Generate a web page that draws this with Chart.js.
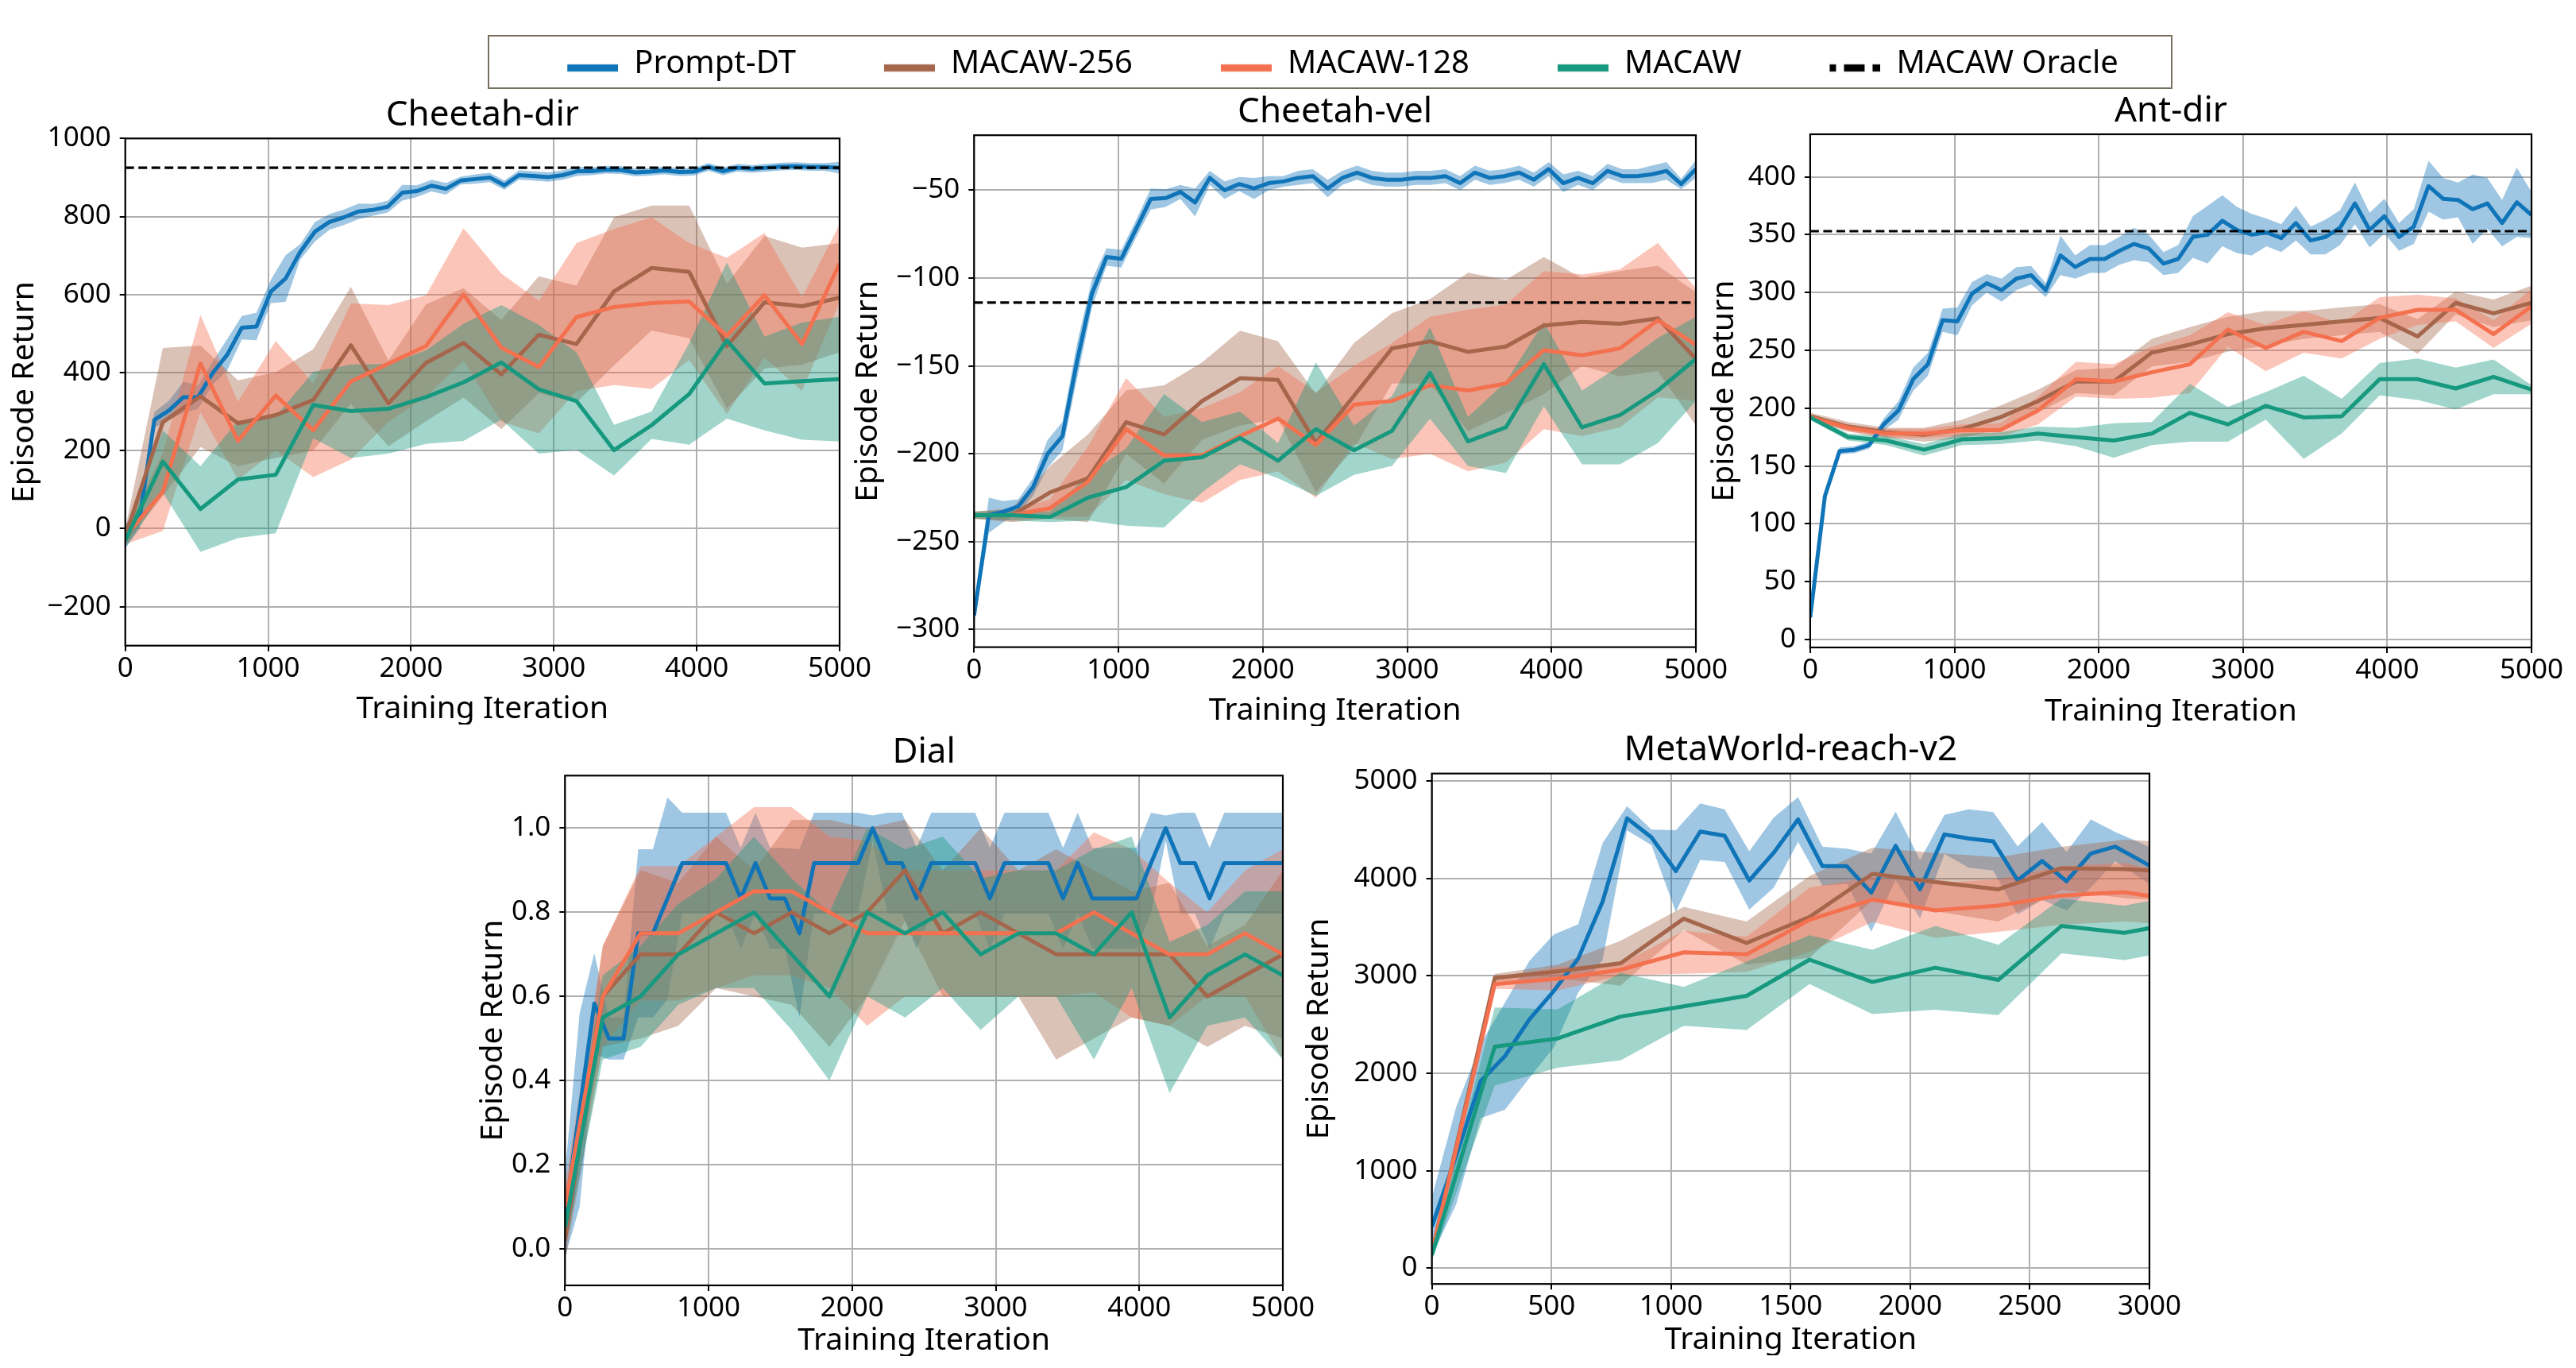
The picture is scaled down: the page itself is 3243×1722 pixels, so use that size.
<!DOCTYPE html>
<html>
<head>
<meta charset="utf-8">
<script src="https://cdn.jsdelivr.net/npm/chart.js@4.4.1/dist/chart.umd.min.js"></script>
<style>
html,body{margin:0;padding:0;background:#fff;}
body{width:3243px;height:1722px;position:relative;overflow:hidden;}
canvas{position:absolute;display:block;}
#legendBorder{position:absolute;left:614px;top:44px;width:2121px;height:68px;border:2.2px solid #77705f;box-sizing:border-box;}
</style>
</head>
<body>
<div id="legendBorder"></div>
<script>
// ---------------- DATA ----------------
const SERIES_LABELS = ['Prompt-DT', 'MACAW-256', 'MACAW-128', 'MACAW', 'MACAW Oracle'];

// evaluation iterations
const ITER_PROMPT_DT = [0,102,204,306,408,510,612,714,816,918,1020,1122,1224,1327,1429,1531,1633,1735,1837,1939,2041,2143,2245,2347,2449,2551,2653,2755,2857,2959,3061,3163,3265,3367,3469,3571,3673,3776,3878,3980,4082,4184,4286,4388,4490,4592,4694,4796,4898,5000];
const ITER_MACAW = [0,263,526,789,1053,1316,1579,1842,2105,2368,2632,2895,3158,3421,3684,3947,4211,4474,4737,5000];

// Cheetah-dir
const CHEETAH_DIR_PROMPT_DT = [-20,30,279,303,337,337,399,446,515,518,608,641,709,761,786,798,813,817,825,861,865,879,871,892,896,900,880,906,904,901,906,916,916,920,919,913,915,918,914,915,927,916,925,922,925,928,929,927,927,925];
const CHEETAH_DIR_PROMPT_DT_STD = [30,30,20,25,40,30,30,40,30,35,30,60,20,25,20,20,20,15,15,20,15,15,15,10,12,12,12,12,12,12,12,12,10,10,10,10,10,10,10,10,10,10,10,10,10,10,10,10,10,15];
const CHEETAH_DIR_MACAW256 = [-20,273,339,270,291,330,470,321,425,476,395,497,473,608,668,658,468,580,570,592];
const CHEETAH_DIR_MACAW256_STD = [20,190,130,110,110,130,150,110,150,140,140,150,150,190,160,170,160,170,150,140];
const CHEETAH_DIR_MACAW128 = [-20,94,423,225,341,252,377,423,468,600,464,414,542,568,578,582,494,598,473,680];
const CHEETAH_DIR_MACAW128_STD = [20,100,125,100,140,120,200,150,130,170,190,170,190,200,220,150,200,160,120,100];
const CHEETAH_DIR_MACAW = [-30,172,50,126,138,317,301,307,337,375,426,357,327,201,265,345,482,372,378,383];
const CHEETAH_DIR_MACAW_STD = [20,80,110,150,150,85,120,115,120,150,147,165,125,65,35,130,200,120,150,160];
const CHEETAH_DIR_ORACLE = 925;

// Cheetah-vel
const CHEETAH_VEL_PROMPT_DT = [-292,-235,-233,-230,-219,-200,-190,-147,-109,-88,-89,-72,-55,-54.5,-51,-57,-43,-50,-46.5,-49,-46,-45,-43,-42,-49,-43,-40,-43,-44,-44,-43,-43,-42,-46,-40,-43,-42,-40,-44,-38,-46,-43,-46,-39,-42,-42,-41,-39,-46.5,-38];
const CHEETAH_VEL_PROMPT_DT_STD = [5,10,6,4,5,8,8,10,8,5,5,5,6,5,4,8,4,5,4,6,4,3,4,4,5,4,4,4,4,4,4,4,4,4,4,4,4,4,4,4,5,4,4,4,4,4,5,5,3,5];
const CHEETAH_VEL_MACAW256 = [-235,-235,-222,-214,-182,-189,-170,-157,-158,-194,-167,-140,-136,-142,-139,-127,-125,-126,-123,-146];
const CHEETAH_VEL_MACAW256_STD = [2,4,15,25,18,28,22,27,22,28,30,20,24,45,38,39,25,30,30,38];
const CHEETAH_VEL_MACAW128 = [-235,-235,-231,-216,-186,-201,-201,-190,-180,-195,-172,-170,-161,-164,-160,-141,-144,-140,-124,-138];
const CHEETAH_VEL_MACAW128_STD = [2,3,5,20,29,22,27,25,30,30,22,33,39,46,45,45,46,45,44,32];
const CHEETAH_VEL_MACAW = [-235,-235,-236,-225,-219,-204,-202,-191,-204,-186,-198,-187,-154,-193,-185,-149,-185,-178,-164,-146];
const CHEETAH_VEL_MACAW_STD = [2,3,3,13,22,38,20,15,10,38,14,20,26,14,26,24,21,28,30,24];
const CHEETAH_VEL_ORACLE = -114;

// Ant-dir
const ANT_DIR_PROMPT_DT = [19,124,163,164,168,186,198,225,238,276,275,299,308,302,312,315,302,332,322,329,329,336,342,338,325,329,348,350,362,354,350,352,347,360,345,348,356,377,354,366,348,357,392,381,380,372,377,360,378,367];
const ANT_DIR_PROMPT_DT_STD = [3,5,3,3,3,5,8,10,10,10,12,10,8,10,10,8,6,17,10,12,12,12,14,12,10,12,18,25,22,20,18,12,12,15,12,15,15,18,15,15,12,15,22,18,15,30,22,20,30,20];
const ANT_DIR_MACAW256 = [193,184,179,177,182,192,206,223,223,248,255,264,269,272,275,278,262,291,282,291];
const ANT_DIR_MACAW256_STD = [3,4,4,6,8,10,10,10,12,12,15,15,15,12,12,12,15,10,12,15];
const ANT_DIR_MACAW128 = [192,183,178,178,181,181,198,225,223,231,238,268,252,266,258,278,285,285,264,288];
const ANT_DIR_MACAW128_STD = [2,3,4,4,5,6,12,15,15,22,25,15,20,18,15,18,13,10,12,15];
const ANT_DIR_MACAW = [192,175,172,164,173,174,178,175,172,178,196,186,202,192,193,225,225,217,227,216];
const ANT_DIR_MACAW_STD = [2,3,4,5,5,5,6,8,15,10,25,15,12,36,15,14,18,18,15,4];
const ANT_DIR_ORACLE = 353;

// Dial
const DIAL_PROMPT_DT = [0.08,0.33,0.583,0.5,0.5,0.75,0.75,0.833,0.917,0.917,0.917,0.917,0.833,0.917,0.833,0.833,0.75,0.917,0.917,0.917,0.917,1.0,0.917,0.917,0.833,0.917,0.917,0.917,0.917,0.833,0.917,0.917,0.917,0.917,0.833,0.917,0.833,0.833,0.833,0.833,0.917,1.0,0.917,0.917,0.833,0.917,0.917,0.917,0.917,0.917];
const DIAL_PROMPT_DT_STD = [0.1,0.23,0.12,0.05,0.05,0.2,0.2,0.24,0.12,0.12,0.12,0.12,0.12,0.12,0.12,0.12,0.2,0.12,0.12,0.12,0.12,0.03,0.12,0.12,0.12,0.12,0.12,0.12,0.12,0.12,0.12,0.12,0.12,0.12,0.12,0.12,0.12,0.12,0.12,0.12,0.12,0.03,0.12,0.12,0.12,0.12,0.12,0.12,0.12,0.12];
const DIAL_MACAW256 = [0.02,0.6,0.7,0.7,0.8,0.75,0.8,0.75,0.8,0.9,0.75,0.8,0.75,0.7,0.7,0.7,0.7,0.6,0.65,0.7];
const DIAL_MACAW256_STD = [0.05,0.12,0.2,0.17,0.18,0.15,0.22,0.27,0.2,0.12,0.15,0.2,0.15,0.25,0.2,0.15,0.17,0.12,0.12,0.2];
const DIAL_MACAW128 = [0.1,0.6,0.75,0.75,0.8,0.85,0.85,0.8,0.75,0.75,0.75,0.75,0.75,0.75,0.8,0.75,0.7,0.7,0.75,0.7];
const DIAL_MACAW128_STD = [0.05,0.12,0.16,0.16,0.18,0.2,0.2,0.18,0.22,0.15,0.15,0.15,0.15,0.15,0.19,0.2,0.17,0.1,0.15,0.25];
const DIAL_MACAW = [0.05,0.55,0.6,0.7,0.75,0.8,0.7,0.6,0.8,0.75,0.8,0.7,0.75,0.75,0.7,0.8,0.55,0.65,0.7,0.65];
const DIAL_MACAW_STD = [0.05,0.1,0.12,0.12,0.13,0.18,0.18,0.2,0.2,0.2,0.18,0.18,0.15,0.15,0.25,0.18,0.18,0.12,0.15,0.2];

// MetaWorld-reach-v2 (axis shown up to 3000)
const MW_PROMPT_DT = [425,1155,1918,2177,2552,2844,3178,3762,4616,4420,4074,4479,4437,3978,4262,4604,4124,4124,3853,4333,3887,4450,4408,4379,3978,4178,3970,4254,4325,4187,4045];
const MW_PROMPT_DT_STD = [300,500,380,550,600,580,350,600,125,80,420,290,270,300,360,230,200,180,400,350,300,200,300,300,350,400,300,350,150,180,200];
const MW_MACAW256 = [154,2978,3044,3128,3586,3336,3603,4045,3962,3887,4103,4095,4060];
const MW_MACAW256_STD = [60,40,70,230,120,220,420,270,300,330,220,300,300];
const MW_MACAW128 = [154,2915,2969,3061,3240,3219,3574,3782,3670,3720,3824,3857,3760];
const MW_MACAW128_STD = [60,50,120,60,220,180,330,230,280,270,300,300,250];
const MW_MACAW = [133,2273,2356,2581,2686,2794,3165,2936,3082,2957,3511,3440,3560];
const MW_MACAW_STD = [60,400,300,450,200,350,250,330,430,360,280,280,280];

// tick values
const X_TICKS_5000 = [0,1000,2000,3000,4000,5000];
const X_TICKS_3000 = [0,500,1000,1500,2000,2500,3000];
const Y_TICKS_CHEETAH_DIR = [-200,0,200,400,600,800,1000];
const Y_TICKS_CHEETAH_VEL = [-300,-250,-200,-150,-100,-50];
const Y_TICKS_ANT_DIR = [0,50,100,150,200,250,300,350,400];
const Y_TICKS_DIAL = [0,0.2,0.4,0.6,0.8,1.0];
const Y_TICKS_MW = [0,1000,2000,3000,4000,5000];

// ---------------- STYLE ----------------
const FONT = "'Noto Sans', sans-serif";
Chart.defaults.font.family = FONT;
Chart.defaults.color = '#000';
const COLORS = ['#0f74b8', '#a5664c', '#f47150', '#17997f'];
const LINE_W = 5;
function rgba(hex, a) {
  const n = parseInt(hex.slice(1), 16);
  return `rgba(${(n >> 16) & 255},${(n >> 8) & 255},${n & 255},${a})`;
}
function fmtInt(v) { return v < 0 ? '\u2212' + Math.abs(v) : String(v); }
function fmt1(v) { return Number(v).toFixed(1); }

const framePlugin = {
  id: 'frame',
  afterDatasetsDraw(chart) {
    const {ctx, chartArea: a} = chart;
    ctx.save();
    ctx.strokeStyle = '#000';
    ctx.lineWidth = 2.2;
    ctx.strokeRect(a.left, a.top, a.right - a.left, a.bottom - a.top);
    ctx.restore();
  }
};

function seriesDatasets(xs, mean, std, color, label, bandOrder, lineOrder) {
  const lower = mean.map((m, i) => ({x: xs[i], y: m - std[i]}));
  const upper = mean.map((m, i) => ({x: xs[i], y: m + std[i]}));
  const line = mean.map((m, i) => ({x: xs[i], y: m}));
  return [
    {label: label + ' low', data: lower, borderColor: 'rgba(0,0,0,0)', borderWidth: 0, pointRadius: 0, fill: false, order: bandOrder, tension: 0},
    {label: label + ' high', data: upper, borderColor: 'rgba(0,0,0,0)', borderWidth: 0, pointRadius: 0, fill: '-1', backgroundColor: rgba(color, 0.4), order: bandOrder, tension: 0},
    {label: label, data: line, borderColor: color, borderWidth: LINE_W, pointRadius: 0, fill: false, order: lineOrder, tension: 0, borderJoinStyle: 'round', borderCapStyle: 'butt'}
  ];
}

function makePanel(p) {
  const TITLE_H = 6 + 44 + 7;
  const canvasLeft = Math.round(p.yTitleX - 19.5);
  const canvasTop = Math.round(p.T - TITLE_H);
  const canvasBottom = p.xTitleY + 19.5;
  const W = p.L - canvasLeft;
  const cw = Math.round(W + (p.R - p.L) + 80);
  const ch = Math.round(canvasBottom - canvasTop);
  const H = ch - (p.B - canvasTop);
  const topPad = (p.T - canvasTop) - TITLE_H;

  const cv = document.createElement('canvas');
  cv.width = cw; cv.height = ch;
  cv.style.left = canvasLeft + 'px'; cv.style.top = canvasTop + 'px';
  cv.style.width = cw + 'px'; cv.style.height = ch + 'px';
  document.body.appendChild(cv);

  let datasets = [];
  const orders = [[100, 40], [90, 30], [80, 20], [70, 10]];
  p.series.forEach((s, k) => {
    datasets = datasets.concat(seriesDatasets(s.x, s.mean, s.std, COLORS[k], SERIES_LABELS[k], orders[k][0], orders[k][1]));
  });
  if (p.oracle !== undefined) {
    datasets.push({label: SERIES_LABELS[4], data: [{x: p.xMin, y: p.oracle}, {x: p.xMax, y: p.oracle}],
      borderColor: '#000', borderWidth: 3.2, borderDash: [11, 5.5], pointRadius: 0, fill: false, order: 5});
  }

  const gridOpts = {color: '#b0b0b0', lineWidth: 2, tickLength: 7, tickColor: '#000', tickWidth: 2, drawTicks: true};

  new Chart(cv, {
    type: 'line',
    data: {datasets},
    options: {
      responsive: false, animation: false, devicePixelRatio: 1, events: [],
      layout: {padding: {left: 0, top: topPad, right: 80, bottom: 0}},
      plugins: {
        legend: {display: false},
        tooltip: {enabled: false},
        title: {display: true, text: p.title, fullSize: false, color: '#000',
          font: {size: 44, weight: 'normal', lineHeight: 1}, padding: {top: 6, bottom: 7}}
      },
      scales: {
        x: {
          type: 'linear', min: p.xMin, max: p.xMax,
          afterBuildTicks: s => { s.ticks = p.xTicks.map(v => ({value: v})); },
          afterFit: s => { s.height = H; },
          ticks: {font: {size: 35, lineHeight: 1}, padding: 4.7, maxRotation: 0, autoSkip: false, color: '#000', callback: v => fmtInt(v)},
          grid: gridOpts,
          border: {display: false},
          title: {display: true, text: 'Training Iteration', color: '#000', font: {size: 39, lineHeight: 1}, padding: {top: 0, bottom: 0}}
        },
        y: {
          type: 'linear', min: p.yMin, max: p.yMax,
          afterBuildTicks: s => { s.ticks = p.yTicks.map(v => ({value: v})); },
          afterFit: s => { s.width = W; },
          ticks: {font: {size: 35, lineHeight: 1}, padding: 11, autoSkip: false, color: '#000', callback: v => p.yFmt(v)},
          grid: gridOpts,
          border: {display: false},
          title: {display: true, text: 'Episode Return', color: '#000', font: {size: 39, lineHeight: 1}, padding: {top: 0, bottom: 0}}
        }
      }
    },
    plugins: [framePlugin]
  });
}

const PANELS = [
  {title: 'Cheetah-dir', L: 157.7, R: 1056.5, T: 174.3, B: 812.7, yTitleX: 30, xTitleY: 892.7,
   xMin: 0, xMax: 5000, xTicks: X_TICKS_5000, yMin: -300, yMax: 1000, yTicks: Y_TICKS_CHEETAH_DIR, yFmt: fmtInt, oracle: CHEETAH_DIR_ORACLE,
   series: [
     {x: ITER_PROMPT_DT, mean: CHEETAH_DIR_PROMPT_DT, std: CHEETAH_DIR_PROMPT_DT_STD},
     {x: ITER_MACAW, mean: CHEETAH_DIR_MACAW256, std: CHEETAH_DIR_MACAW256_STD},
     {x: ITER_MACAW, mean: CHEETAH_DIR_MACAW128, std: CHEETAH_DIR_MACAW128_STD},
     {x: ITER_MACAW, mean: CHEETAH_DIR_MACAW, std: CHEETAH_DIR_MACAW_STD}]},
  {title: 'Cheetah-vel', L: 1226.3, R: 2134.7, T: 170.2, B: 814.6, yTitleX: 1092, xTitleY: 894.6,
   xMin: 0, xMax: 5000, xTicks: X_TICKS_5000, yMin: -310.1, yMax: -18.7, yTicks: Y_TICKS_CHEETAH_VEL, yFmt: fmtInt, oracle: CHEETAH_VEL_ORACLE,
   series: [
     {x: ITER_PROMPT_DT, mean: CHEETAH_VEL_PROMPT_DT, std: CHEETAH_VEL_PROMPT_DT_STD},
     {x: ITER_MACAW, mean: CHEETAH_VEL_MACAW256, std: CHEETAH_VEL_MACAW256_STD},
     {x: ITER_MACAW, mean: CHEETAH_VEL_MACAW128, std: CHEETAH_VEL_MACAW128_STD},
     {x: ITER_MACAW, mean: CHEETAH_VEL_MACAW, std: CHEETAH_VEL_MACAW_STD}]},
  {title: 'Ant-dir', L: 2278.9, R: 3186.7, T: 169, B: 815, yTitleX: 2170, xTitleY: 895,
   xMin: 0, xMax: 5000, xTicks: X_TICKS_5000, yMin: -6.9, yMax: 436.8, yTicks: Y_TICKS_ANT_DIR, yFmt: fmtInt, oracle: ANT_DIR_ORACLE,
   series: [
     {x: ITER_PROMPT_DT, mean: ANT_DIR_PROMPT_DT, std: ANT_DIR_PROMPT_DT_STD},
     {x: ITER_MACAW, mean: ANT_DIR_MACAW256, std: ANT_DIR_MACAW256_STD},
     {x: ITER_MACAW, mean: ANT_DIR_MACAW128, std: ANT_DIR_MACAW128_STD},
     {x: ITER_MACAW, mean: ANT_DIR_MACAW, std: ANT_DIR_MACAW_STD}]},
  {title: 'Dial', L: 711.3, R: 1614.5, T: 976.3, B: 1618, yTitleX: 620.7, xTitleY: 1687.7,
   xMin: 0, xMax: 5000, xTicks: X_TICKS_5000, yMin: -0.087, yMax: 1.125, yTicks: Y_TICKS_DIAL, yFmt: fmt1,
   series: [
     {x: ITER_PROMPT_DT, mean: DIAL_PROMPT_DT, std: DIAL_PROMPT_DT_STD},
     {x: ITER_MACAW, mean: DIAL_MACAW256, std: DIAL_MACAW256_STD},
     {x: ITER_MACAW, mean: DIAL_MACAW128, std: DIAL_MACAW128_STD},
     {x: ITER_MACAW, mean: DIAL_MACAW, std: DIAL_MACAW_STD}]},
  {title: 'MetaWorld-reach-v2', L: 1802.6, R: 2706.1, T: 973.7, B: 1616.2, yTitleX: 1660, xTitleY: 1686,
   xMin: 0, xMax: 3000, xTicks: X_TICKS_3000, yMin: -163, yMax: 5075, yTicks: Y_TICKS_MW, yFmt: fmtInt,
   series: [
     {x: ITER_PROMPT_DT, mean: MW_PROMPT_DT, std: MW_PROMPT_DT_STD},
     {x: ITER_MACAW, mean: MW_MACAW256, std: MW_MACAW256_STD},
     {x: ITER_MACAW, mean: MW_MACAW128, std: MW_MACAW128_STD},
     {x: ITER_MACAW, mean: MW_MACAW, std: MW_MACAW_STD}]}
];

PANELS.forEach(makePanel);

// ---------------- SHARED LEGEND ----------------
const GAP = 101;
const HANDLE = 64;
function legendIcon(color, dashed) {
  const c = document.createElement('canvas');
  c.width = GAP + HANDLE; c.height = 30;
  const g = c.getContext('2d');
  g.strokeStyle = color; g.lineWidth = 9; g.lineCap = 'butt';
  if (dashed) { g.setLineDash([26, 10]); g.lineDashOffset = 18; }
  g.beginPath(); g.moveTo(GAP, 19.7); g.lineTo(GAP + HANDLE, 19.7); g.stroke();
  return c;
}
const LEGEND_COLORS = COLORS.concat(['#000']);
const legendIcons = LEGEND_COLORS.map((c, i) => legendIcon(c, i === 4));

const lc = document.createElement('canvas');
lc.width = 2400; lc.height = 140;
lc.style.left = '440px'; lc.style.top = '40px';
lc.style.width = '2400px'; lc.style.height = '140px';
document.body.appendChild(lc);
new Chart(lc, {
  type: 'line',
  data: {datasets: []},
  options: {
    responsive: false, animation: false, devicePixelRatio: 1, events: [],
    layout: {padding: {top: 10.8, left: 0, right: 0, bottom: 0}},
    scales: {x: {display: false}, y: {display: false}},
    plugins: {
      tooltip: {enabled: false},
      title: {display: false},
      legend: {
        display: true, position: 'top', align: 'center', maxHeight: 120, maxWidth: 2400,
        labels: {
          usePointStyle: true, pointStyleWidth: GAP + HANDLE, padding: 10, color: '#000',
          font: {size: 40},
          generateLabels: () => SERIES_LABELS.map((t, i) => ({
            text: t, pointStyle: legendIcons[i], fillStyle: 'rgba(0,0,0,0)', strokeStyle: 'rgba(0,0,0,0)',
            lineWidth: 0, hidden: false, datasetIndex: i, fontColor: '#000'
          }))
        }
      }
    }
  }
});
</script>
</body>
</html>
